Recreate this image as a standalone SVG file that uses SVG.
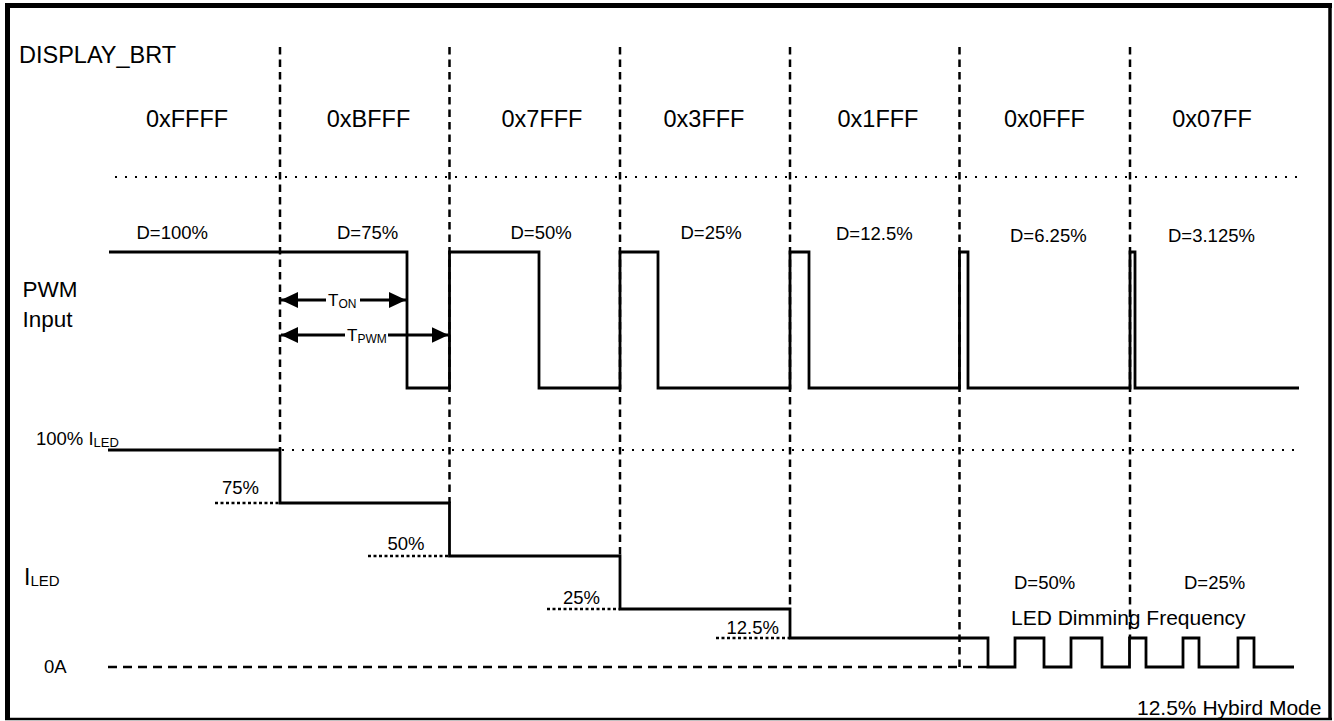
<svg xmlns="http://www.w3.org/2000/svg" width="1334" height="721" viewBox="0 0 1334 721">
<style>
text{font-family:"Liberation Sans",Arial,Helvetica,sans-serif;fill:#000}
.big{font-size:23.5px}
.mid{font-size:22.5px}
.sm{font-size:18.5px}
.lg{font-size:21px}
.solid{fill:none;stroke:#000;stroke-width:2.8;stroke-linejoin:miter}
.vdash{fill:none;stroke:#000;stroke-width:2.5;stroke-dasharray:7.5 5}
.hdash{fill:none;stroke:#000;stroke-width:2.5;stroke-dasharray:9 6}
.dot{fill:none;stroke:#000;stroke-width:2;stroke-dasharray:2 8}
.fdot{fill:none;stroke:#000;stroke-width:2.5;stroke-dasharray:3 2.5}
.arr{fill:none;stroke:#000;stroke-width:2.8}
</style>
<defs>
<marker id="ah" viewBox="0 0 17 16" refX="17" refY="8" markerWidth="17" markerHeight="16" markerUnits="userSpaceOnUse" orient="auto-start-reverse">
<path d="M0,0 L17,8 L0,16 z" fill="#000"/>
</marker>
</defs>
<rect width="1334" height="721" fill="#fff"/>
<g id="frame">
<line x1="7.5" y1="3" x2="7.5" y2="720" stroke="#000" stroke-width="5"/>
<line x1="5" y1="5.5" x2="1332" y2="5.5" stroke="#000" stroke-width="5"/>
<line x1="1330" y1="3" x2="1330" y2="720" stroke="#000" stroke-width="3.5"/>
<line x1="5" y1="719" x2="1332" y2="719" stroke="#000" stroke-width="2.5"/>
</g>
<g id="grid">
<line class="dot" x1="115" y1="177" x2="1304" y2="177"/>
<line class="dot" x1="282" y1="450" x2="1302" y2="450"/>
<line class="vdash" x1="280" y1="47" x2="280" y2="450"/>
<line class="vdash" x1="449.5" y1="47" x2="449.5" y2="503"/>
<line class="vdash" x1="620" y1="47" x2="620" y2="556"/>
<line class="vdash" x1="790" y1="47" x2="790" y2="609"/>
<line class="vdash" x1="959.5" y1="47" x2="959.5" y2="668"/>
<line class="vdash" x1="1130" y1="47" x2="1130" y2="638"/>
<line class="hdash" x1="108" y1="667" x2="990" y2="667"/>
<line class="fdot" x1="215" y1="503" x2="280" y2="503"/>
<line class="fdot" x1="368" y1="556" x2="449.5" y2="556"/>
<line class="fdot" x1="547" y1="609" x2="620" y2="609"/>
<line class="fdot" x1="716" y1="638" x2="790" y2="638"/>
</g>
<g id="pwm-wave">
<path class="solid" d="M109,252 H407 V388 H449.5 V252 H539 V388 H620 V252 H658 V388 H790 V252 H809 V388 H959.5 V252 H968 V388 H1130 V252 H1135 V388 H1299"/>
</g>
<g id="iled-wave">
<path class="solid" d="M108,450 H280 V503 H449.5 V556 H620 V609 H790 V638 H988 V667 H1015 V638 H1044 V667 H1071 V638 H1102 V667 H1129.5 V638 H1146 V667 H1183 V638 H1199 V667 H1238 V638 H1254 V667 H1294"/>
</g>
<g id="connectors">
<line class="arr" x1="281" y1="300" x2="326" y2="300" marker-start="url(#ah)"/>
<line class="arr" x1="360" y1="300" x2="406" y2="300" marker-end="url(#ah)"/>
<line class="arr" x1="281" y1="335" x2="345" y2="335" marker-start="url(#ah)"/>
<line class="arr" x1="388" y1="335" x2="448.5" y2="335" marker-end="url(#ah)"/>
</g>
<g id="labels">
<text class="big" x="19" y="63">DISPLAY_BRT</text>
<text class="big" x="187" y="127" text-anchor="middle">0xFFFF</text>
<text class="big" x="368.5" y="127" text-anchor="middle">0xBFFF</text>
<text class="big" x="542" y="127" text-anchor="middle">0x7FFF</text>
<text class="big" x="704" y="127" text-anchor="middle">0x3FFF</text>
<text class="big" x="878" y="127" text-anchor="middle">0x1FFF</text>
<text class="big" x="1044.5" y="127" text-anchor="middle">0x0FFF</text>
<text class="big" x="1212" y="127" text-anchor="middle">0x07FF</text>
<text class="sm" x="136.5" y="239">D=100%</text>
<text class="sm" x="337" y="239">D=75%</text>
<text class="sm" x="510.5" y="239">D=50%</text>
<text class="sm" x="680.5" y="239">D=25%</text>
<text class="sm" x="836" y="240">D=12.5%</text>
<text class="sm" x="1010" y="242">D=6.25%</text>
<text class="sm" x="1168" y="242">D=3.125%</text>
<text class="mid" x="22.5" y="296.5">PWM</text>
<text class="mid" x="22.5" y="326.5">Input</text>
<text x="328" y="306" font-size="17">T<tspan font-size="12" dy="2">ON</tspan></text>
<text x="347" y="341" font-size="17">T<tspan font-size="12" dy="2">PWM</tspan></text>
<text class="sm" x="36" y="444.5">100% I<tspan font-size="13" dy="2.5">LED</tspan></text>
<text class="sm" x="222" y="494">75%</text>
<text class="sm" x="387.5" y="550">50%</text>
<text class="sm" x="563" y="604">25%</text>
<text class="sm" x="726.5" y="634">12.5%</text>
<text x="24" y="584.5" font-size="23">I<tspan font-size="15" dy="1.5">LED</tspan></text>
<text class="sm" x="44" y="673">0A</text>
<text class="sm" x="1014" y="589">D=50%</text>
<text class="sm" x="1184" y="589">D=25%</text>
<text class="lg" x="1011" y="625">LED Dimming Frequency</text>
<text class="lg" x="1137" y="715">12.5% Hybird Mode</text>
</g>
</svg>
